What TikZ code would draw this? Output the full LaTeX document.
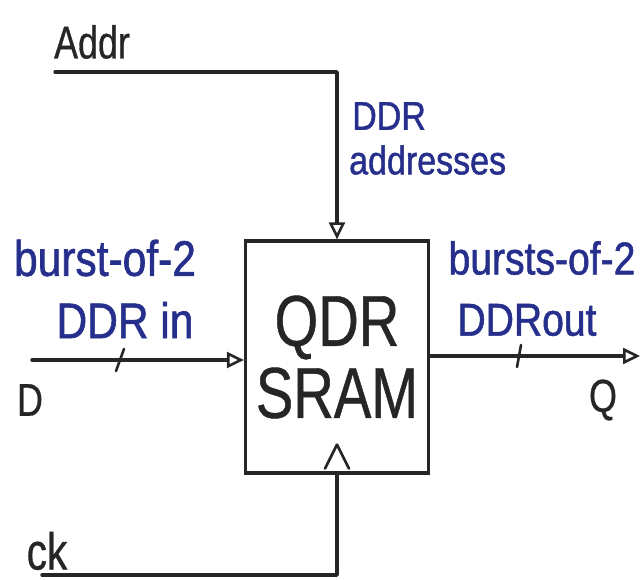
\documentclass[tikz,border=0pt]{standalone}
\usepackage{fontspec}
\usetikzlibrary{arrows.meta,calc}
\newfontfamily\hand[FakeStretch=0.78,FakeBold=0.6]{Liberation Sans}
\newfontfamily\marker[FakeStretch=0.85,FakeBold=1.2]{Liberation Sans}
\definecolor{ink}{RGB}{38,38,38}
\definecolor{pen}{RGB}{38,48,140}
\begin{document}
\begin{tikzpicture}[x=1pt,y=-1pt,
  wire/.style={draw=ink,line width=3.4pt,line cap=round,line join=round},
  arr/.style={wire,-{Triangle[open,length=17pt,width=16pt,line width=2.6pt]}},
  blk/.style={draw=ink,line width=3.2pt,minimum width=183pt,minimum height=232pt,inner sep=0pt,align=center,text=ink},
  blabel/.style={text=pen,inner sep=0pt,align=center},
  klabel/.style={text=ink,inner sep=0pt,font=\hand\fontsize{46}{50}\selectfont}]
\useasboundingbox (0,0) rectangle (643,580);
\fill[white] (0,0) rectangle (643,580);
% block
\node[blk,font=\hand\fontsize{72}{72}\selectfont] (box) at (337,357) {QDR\\SRAM};
% labels
\node[klabel] (addr) at (92,42) {Addr};
\node[blabel,anchor=west,font=\marker\fontsize{40}{40}\selectfont] (ddra) at (352,116) {DDR};
\node[blabel,anchor=west,font=\marker\fontsize{40}{40}\selectfont] (ddrb) at (349,160) {addresses};
\node[blabel,font=\marker\fontsize{50}{50}\selectfont] (bin1) at (105,258) {burst-of-2};
\node[blabel,font=\marker\fontsize{50}{50}\selectfont] (bin2) at (125,320) {DDR in};
\node[blabel,font=\marker\fontsize{46}{46}\selectfont] (bout1) at (542,258) {bursts-of-2};
\node[blabel,font=\marker\fontsize{46}{46}\selectfont] (bout2) at (527,320) {DDRout};
\node[klabel] (dlab) at (30,400) {D};
\node[klabel] (qlab) at (603,400) {Q};
\node[klabel,font=\hand\fontsize{52}{52}\selectfont] (cklab) at (47,551) {ck};
% connector end points
\coordinate (addrin) at (55,72);
\coordinate (din) at (32,360);
\coordinate (qout) at (640,356);
\coordinate (ckin) at (42,575);
% connectors
\draw[arr] (addrin) -| (box.north);
\draw[arr] (din) -- (din -| box.west);
\draw[arr] (box.east |- qout) -- (qout);
\draw[wire] (ckin) -| (box.south);
% bus slashes
\draw[wire,line width=2.6pt] (116,371) -- (124,349);
\draw[wire,line width=2.6pt] (517,367) -- (521,345);
% clock chevron
\draw[wire,line width=2.6pt] ($(box.south)+(-12,-6)$) -- ($(box.south)+(0,-30)$) -- ($(box.south)+(12,-6)$);
\end{tikzpicture}
\end{document}
